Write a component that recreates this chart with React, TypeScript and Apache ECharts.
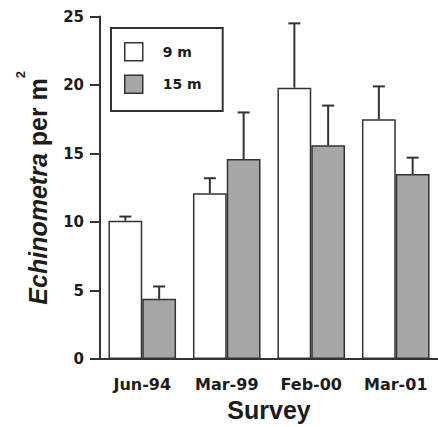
import React, { useEffect, useRef } from "react";
import * as echarts from "echarts";

const categories = ["Jun-94", "Mar-99", "Feb-00", "Mar-01"];
const seriesNames = ["9 m", "15 m"];
const mean9m = [10.1, 12.1, 19.8, 17.5];
const err9m = [0.3, 1.1, 4.7, 2.4];
const mean15m = [4.4, 14.6, 15.6, 13.5];
const err15m = [0.9, 3.4, 2.9, 1.2];
const yTicks = { min: 0, max: 25, interval: 5 };

const AXIS = "#333333";
const TEXT = "#1c1c1c";
const GRAY = "#a6a6a6";
const LABEL_FONT = "DejaVu Sans";
const TITLE_FONT = "Liberation Sans";

function errorSeries(means: number[], errs: number[], side: number) {
  return {
    type: "custom",
    z: 5,
    silent: true,
    encode: { x: 0, y: 1 },
    data: means.map((m, i) => [i, m, errs[i]]),
    renderItem: (params: any, api: any) => {
      const idx = api.value(0);
      const m = api.value(1);
      const e = api.value(2);
      const base = api.coord([idx, m]);
      const top = api.coord([idx, m + e]);
      const band = api.size([1, 0])[0];
      const x = base[0] + side * band * 0.2;
      const cap = 6;
      return {
        type: "group",
        children: [
          {
            type: "line",
            shape: { x1: x, y1: base[1], x2: x, y2: top[1] },
            style: { stroke: AXIS, lineWidth: 2 },
          },
          {
            type: "line",
            shape: { x1: x - cap, y1: top[1], x2: x + cap, y2: top[1] },
            style: { stroke: AXIS, lineWidth: 2 },
          },
        ],
      };
    },
  };
}

export default function App() {
  const ref = useRef<HTMLDivElement>(null);
  useEffect(() => {
    if (!ref.current) return;
    const chart = echarts.init(ref.current, undefined, { renderer: "svg" });
    chart.setOption({
      animation: false,
      backgroundColor: "#ffffff",
      grid: { left: 100, right: -8.5, top: 16.5, bottom: 63 },
      legend: {
        data: seriesNames,
        orient: "vertical",
        left: 111,
        top: 28,
        padding: [14, 21, 17, 13],
        borderColor: AXIS,
        borderWidth: 2,
        itemWidth: 18,
        itemHeight: 18,
        itemGap: 13,
        icon: "rect",
        itemStyle: { borderColor: AXIS, borderWidth: 1.5 },
        textStyle: {
          fontFamily: LABEL_FONT,
          fontWeight: "bold",
          fontSize: 14,
          color: TEXT,
          padding: [0, 0, 0, 15],
        },
      },
      xAxis: {
        type: "category",
        data: categories,
        name: "Survey",
        nameLocation: "middle",
        nameGap: 36,
        nameTextStyle: {
          fontFamily: TITLE_FONT,
          fontWeight: "bold",
          fontSize: 25,
          color: TEXT,
        },
        axisLine: { lineStyle: { color: AXIS, width: 2 } },
        axisTick: { alignWithLabel: true, length: 11, lineStyle: { color: AXIS, width: 2 } },
        axisLabel: {
          margin: 17,
          fontFamily: LABEL_FONT,
          fontWeight: "bold",
          fontSize: 16,
          color: TEXT,
        },
        splitLine: { show: false },
      },
      yAxis: {
        type: "value",
        min: yTicks.min,
        max: yTicks.max,
        interval: yTicks.interval,
        name: "{i|Echinometra}{n| per m}{s|2}",
        nameLocation: "middle",
        nameRotate: 90,
        nameGap: 38,
        nameTextStyle: {
          color: TEXT,
          rich: {
            i: {
              fontFamily: TITLE_FONT,
              fontWeight: "bold",
              fontStyle: "italic",
              fontSize: 25,
              lineHeight: 48,
              color: TEXT,
            },
            n: {
              fontFamily: TITLE_FONT,
              fontWeight: "bold",
              fontSize: 25,
              lineHeight: 48,
              color: TEXT,
            },
            s: {
              fontFamily: TITLE_FONT,
              fontWeight: "bold",
              fontSize: 13,
              verticalAlign: "top",
              color: TEXT,
            },
          },
        },
        axisLine: { show: true, lineStyle: { color: AXIS, width: 2 } },
        axisTick: { show: true, length: 10, lineStyle: { color: AXIS, width: 2 } },
        axisLabel: {
          margin: 16,
          fontFamily: LABEL_FONT,
          fontWeight: "bold",
          fontSize: 15,
          color: TEXT,
        },
        splitLine: { show: false },
      },
      series: [
        {
          name: seriesNames[0],
          type: "bar",
          data: mean9m,
          barWidth: "40%",
          barGap: "0%",
          itemStyle: { color: "#ffffff", borderColor: AXIS, borderWidth: 1.5 },
        },
        {
          name: seriesNames[1],
          type: "bar",
          data: mean15m,
          barWidth: "40%",
          barGap: "0%",
          itemStyle: { color: GRAY, borderColor: AXIS, borderWidth: 1.5 },
        },
        errorSeries(mean9m, err9m, -1),
        errorSeries(mean15m, err15m, 1),
      ],
    });
    return () => chart.dispose();
  }, []);
  return <div ref={ref} style={{ width: 438, height: 427, position: "absolute", left: 0, top: 0 }} />;
}
